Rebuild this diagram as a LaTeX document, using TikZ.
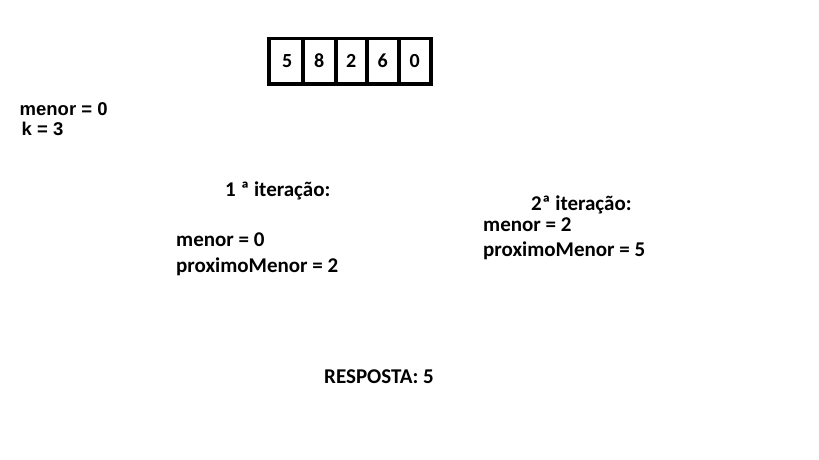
\documentclass[tikz,border=0pt]{standalone}
\usepackage{fontspec}
\setmainfont{Carlito}[Numbers=Lining]
\newfontfamily\arialb{Liberation Sans}
\tikzset{
  cell/.style={draw=black, line width=3.5pt, minimum height=45pt, inner sep=0pt, text height=13pt, text depth=0pt, anchor=north west, font=\bfseries\fontsize{20}{22}\selectfont},
  lbl/.style={anchor=base west, inner sep=0pt, font=\bfseries\fontsize{21}{24}\selectfont},
  albl/.style={anchor=base west, inner sep=0pt, font=\arialb\bfseries\fontsize{18.5}{20}\selectfont}
}
\begin{document}
\begin{tikzpicture}[x=1pt,y=-1pt]
\useasboundingbox[fill=white] (0,0) rectangle (819,460);
\node[cell, minimum width=34pt] (c1) at (267,37) {\hspace{3pt}5};
\node[cell, minimum width=33pt] (c2) at (301,37) {8};
\node[cell, minimum width=31pt] (c3) at (334,37) {2};
\node[cell, minimum width=32pt] (c4) at (365,37) {6};
\node[cell, minimum width=32pt] (c5) at (397,37) {0};
\node[albl] (m0) at (19.5,115) {menor = 0};
\node[albl] (k) at (21.5,135) {k = 3};
\node[lbl] (it1) at (225,196) {1 ª iteração:};
\node[lbl] (m1) at (176,246.5) {menor = 0};
\node[lbl] (p1) at (176,272.5) {proximoMenor = 2};
\node[lbl] (it2) at (531,210) {2ª iteração:};
\node[lbl] (m2) at (483,231.5) {menor = 2};
\node[lbl] (p2) at (483,256.5) {proximoMenor = 5};
\node[lbl] (r) at (324,383) {RESPOSTA: 5};
\end{tikzpicture}
\end{document}
